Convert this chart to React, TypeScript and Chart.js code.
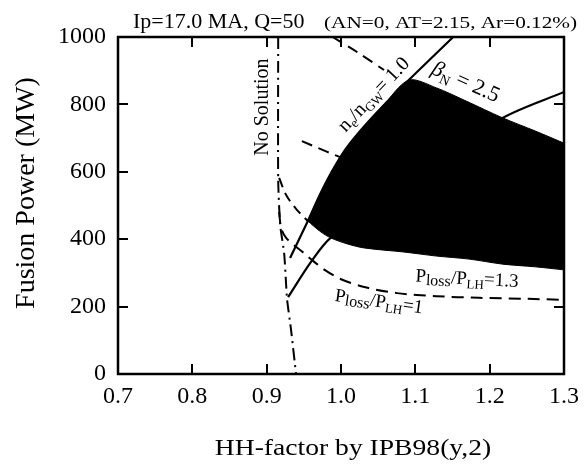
import React, { useEffect, useRef } from "react";
import { Chart, registerables } from "chart.js";

Chart.register(...registerables);

// ---- axis ranges / ticks ----
const xTickValues = [0.7, 0.8, 0.9, 1.0, 1.1, 1.2, 1.3];
const yTickValues = [0, 200, 400, 600, 800, 1000];

// ---- curves (HH-factor, Fusion power MW) ----
const noSolutionX = [0.9155, 0.9155, 0.9182, 0.9235, 0.9262, 0.9275, 0.9328, 0.9395];
const noSolutionY = [1000, 576, 442, 359, 264, 220, 131, 0];

const densityLimitX = [0.9315, 0.9554, 0.9714, 0.9873, 1.0046, 1.0246, 1.0552, 1.0911, 1.151];
const densityLimitY = [344, 454, 531, 599, 662, 718, 792, 872, 1000];

const betaLimitX = [1.0911, 1.1284, 1.1683, 1.2175, 1.2614, 1.3];
const betaLimitY = [872, 849, 810, 760, 721, 685];

const loss13RegionX = [0.9554, 0.9714, 0.986, 1.0086, 1.0312, 1.0845, 1.1284, 1.1723, 1.2175, 1.2614, 1.3];
const loss13RegionY = [454, 424, 404, 386, 374, 362, 350, 341, 326, 318, 309];

const loss13OuterX = [0.9168, 0.9262, 0.9395, 0.9554];
const loss13OuterY = [582, 531, 490, 454];

const loss1X = [0.9168, 0.9195, 0.9262, 0.9381, 0.9501, 0.9594, 0.978, 0.9993, 1.0312, 1.0752, 1.1284, 1.1856, 1.2521, 1.3];
const loss1Y = [481, 433, 404, 380, 359, 341, 309, 282, 258, 240, 231, 226, 223, 220];

const otherLimitX = [0.9288, 0.9594, 0.986, 1.1018, 1.2175, 1.3];
const otherLimitY = [228, 332, 404, 590, 760, 837];

const dashedUpperX = [0.9887, 1.0233, 1.0579];
const dashedUpperY = [1000, 953, 902];

const dashedLowerX = [0.9474, 0.9687, 0.9913, 1.0086];
const dashedLowerY = [691, 671, 650, 635];

// ---- annotation anchors (data coordinates) ----
const noSolutionLabelAt = [0.8929, 792];
const densityLabelAt = [1.0432, 831];
const betaLabelAt = [1.1683, 869];
const loss13LabelAt = [1.1696, 285];
const loss1LabelAt = [1.0512, 217];

const SERIF = "'Liberation Serif', 'Times New Roman', serif";

const zip = (xs: number[], ys: number[]) => xs.map((x, i) => ({ x, y: ys[i] }));

type Part = { t: string; s: number; dy?: number; it?: boolean };

function drawRich(ctx: CanvasRenderingContext2D, parts: Part[], cx: number, cy: number, angleDeg: number, mainSize: number) {
  ctx.save();
  ctx.translate(cx, cy);
  ctx.rotate((angleDeg * Math.PI) / 180);
  ctx.textAlign = "left";
  ctx.textBaseline = "alphabetic";
  ctx.fillStyle = "#000";
  const widths = parts.map((p) => {
    ctx.font = `${p.it ? "italic " : ""}${p.s}px ${SERIF}`;
    return ctx.measureText(p.t).width;
  });
  const total = widths.reduce((a, b) => a + b, 0);
  let x = -total / 2;
  const base = mainSize * 0.33;
  parts.forEach((p, i) => {
    ctx.font = `${p.it ? "italic " : ""}${p.s}px ${SERIF}`;
    ctx.fillText(p.t, x, base + (p.dy || 0));
    x += widths[i];
  });
  ctx.restore();
}

const decorPlugin = {
  id: "decor",
  afterDraw(chart: any) {
    const ctx: CanvasRenderingContext2D = chart.ctx;
    const { left, right, top, bottom } = chart.chartArea;
    const xs = chart.scales.x;
    const ys = chart.scales.y;
    ctx.save();
    // frame
    ctx.strokeStyle = "#000";
    ctx.lineWidth = 2.5;
    ctx.strokeRect(left, top, right - left, bottom - top);
    // inward ticks
    ctx.lineWidth = 2;
    const tl = 10;
    xTickValues.slice(1, -1).forEach((v) => {
      const px = Math.round(xs.getPixelForValue(v));
      ctx.beginPath();
      ctx.moveTo(px, bottom);
      ctx.lineTo(px, bottom - tl);
      ctx.moveTo(px, top);
      ctx.lineTo(px, top + tl);
      ctx.stroke();
    });
    yTickValues.slice(1, -1).forEach((v) => {
      const py = Math.round(ys.getPixelForValue(v));
      ctx.beginPath();
      ctx.moveTo(left, py);
      ctx.lineTo(left + tl, py);
      ctx.moveTo(right, py);
      ctx.lineTo(right - tl, py);
      ctx.stroke();
    });

    // titles
    ctx.fillStyle = "#000";
    ctx.textBaseline = "alphabetic";
    ctx.textAlign = "left";
    ctx.font = `22px ${SERIF}`;
    ctx.fillText("Ip=17.0 MA, Q=50", 133, 28);
    ctx.save();
    ctx.translate(324, 28);
    ctx.scale(1.25, 1);
    ctx.font = `17px ${SERIF}`;
    ctx.fillText("(AN=0, AT=2.15, Ar=0.12%)", 0, 0);
    ctx.restore();

    // axis titles
    ctx.save();
    ctx.translate(353, 455);
    ctx.scale(1.2, 1);
    ctx.textAlign = "center";
    ctx.font = `23px ${SERIF}`;
    ctx.fillText("HH-factor by IPB98(y,2)", 0, 0);
    ctx.restore();

    ctx.save();
    ctx.translate(34, 193);
    ctx.rotate(-Math.PI / 2);
    ctx.textAlign = "center";
    ctx.font = `28px ${SERIF}`;
    ctx.fillText("Fusion Power (MW)", 0, 0);
    ctx.restore();

    // annotations
    const P = (a: number[]) => [xs.getPixelForValue(a[0]), ys.getPixelForValue(a[1])];
    let [cx, cy] = P(noSolutionLabelAt);
    drawRich(ctx, [{ t: "No Solution", s: 20 }], cx, cy, -90, 20);

    [cx, cy] = P(densityLabelAt);
    drawRich(
      ctx,
      [
        { t: "n", s: 20 },
        { t: "e", s: 13, dy: 4 },
        { t: "/n", s: 20 },
        { t: "GW", s: 13, dy: 4 },
        { t: "= 1.0", s: 20 },
      ],
      cx,
      cy,
      -46.5,
      20
    );

    [cx, cy] = P(betaLabelAt);
    drawRich(
      ctx,
      [
        { t: "β", s: 22, it: true },
        { t: "N", s: 14, dy: 5 },
        { t: " = 2.5", s: 22 },
      ],
      cx,
      cy,
      24,
      22
    );

    [cx, cy] = P(loss13LabelAt);
    drawRich(
      ctx,
      [
        { t: "P", s: 19 },
        { t: "loss", s: 16, dy: 3 },
        { t: "/P", s: 19 },
        { t: "LH", s: 13, dy: 4 },
        { t: "=1.3", s: 19 },
      ],
      cx,
      cy,
      3,
      19
    );

    [cx, cy] = P(loss1LabelAt);
    drawRich(
      ctx,
      [
        { t: "P", s: 19 },
        { t: "loss", s: 16, dy: 3 },
        { t: "/P", s: 19 },
        { t: "LH", s: 13, dy: 4 },
        { t: "=1", s: 19 },
      ],
      cx,
      cy,
      8,
      19
    );
    ctx.restore();
  },
};

export default function App() {
  const ref = useRef<HTMLCanvasElement | null>(null);
  useEffect(() => {
    document.body.style.margin = "0";
    const canvas = ref.current;
    if (!canvas) return;

    const regionTop = zip(densityLimitX, densityLimitY)
      .filter((p) => p.x >= 0.9554 && p.x < 1.0911)
      .concat(zip(betaLimitX, betaLimitY));
    const regionBottom = zip(loss13RegionX, loss13RegionY);

    const line = (data: any[], dash: number[], width = 2, tension = 0.3) => ({
      data,
      showLine: true,
      borderColor: "#000",
      backgroundColor: "#000",
      borderWidth: width,
      borderDash: dash,
      pointRadius: 0,
      pointHoverRadius: 0,
      tension,
      fill: false,
    });

    const chart = new Chart(canvas, {
      type: "scatter",
      data: {
        datasets: [
          { label: "ne/nGW=1.0", ...line(zip(densityLimitX, densityLimitY), [], 2.2) },
          { label: "limit", ...line(zip(otherLimitX, otherLimitY), [], 2.2) },
          { label: "No Solution", ...line(zip(noSolutionX, noSolutionY), [12, 5, 2, 5], 2, 0.2) },
          { label: "Ploss/PLH=1.3 outer", ...line(zip(loss13OuterX, loss13OuterY), [10, 6], 2) },
          { label: "Ploss/PLH=1", ...line(zip(loss1X, loss1Y), [12, 7], 2) },
          { label: "dashed upper", ...line(zip(dashedUpperX, dashedUpperY), [11, 7], 2) },
          { label: "dashed lower", ...line(zip(dashedLowerX, dashedLowerY), [11, 7], 2) },
          {
            label: "region top",
            ...line(regionTop, [], 1),
            fill: { target: 8, above: "#000", below: "#000" },
          },
          { label: "region bottom (Ploss/PLH=1.3)", ...line(regionBottom, [], 1) },
        ],
      },
      options: {
        animation: false,
        responsive: false,
        events: [],
        layout: { padding: { left: 0, right: 18, top: 37, bottom: 0 } },
        plugins: {
          legend: { display: false },
          tooltip: { enabled: false },
          title: { display: false },
        },
        scales: {
          x: {
            type: "linear",
            min: 0.7,
            max: 1.3,
            afterFit: (s: any) => {
              s.height = 91;
            },
            afterBuildTicks: (s: any) => {
              s.ticks = xTickValues.map((v) => ({ value: v }));
            },
            ticks: {
              padding: 8,
              color: "#000",
              font: { family: SERIF, size: 24 },
              callback: (v: any) => Number(v).toFixed(1),
              maxRotation: 0,
              autoSkip: false,
            },
            grid: { display: false, drawTicks: false },
            border: { display: false },
          },
          y: {
            type: "linear",
            min: 0,
            max: 1000,
            afterFit: (s: any) => {
              s.width = 118;
            },
            afterBuildTicks: (s: any) => {
              s.ticks = yTickValues.map((v) => ({ value: v }));
            },
            ticks: {
              padding: 12,
              color: "#000",
              font: { family: SERIF, size: 24 },
              callback: (v: any) => String(v),
              autoSkip: false,
            },
            grid: { display: false, drawTicks: false },
            border: { display: false },
          },
        },
      },
      plugins: [decorPlugin],
    } as any);
    return () => chart.destroy();
  }, []);

  return (
    <div style={{ width: 587, height: 465, position: "relative", background: "#fff" }}>
      <canvas ref={ref} width={587} height={465} style={{ display: "block" }} />
    </div>
  );
}
